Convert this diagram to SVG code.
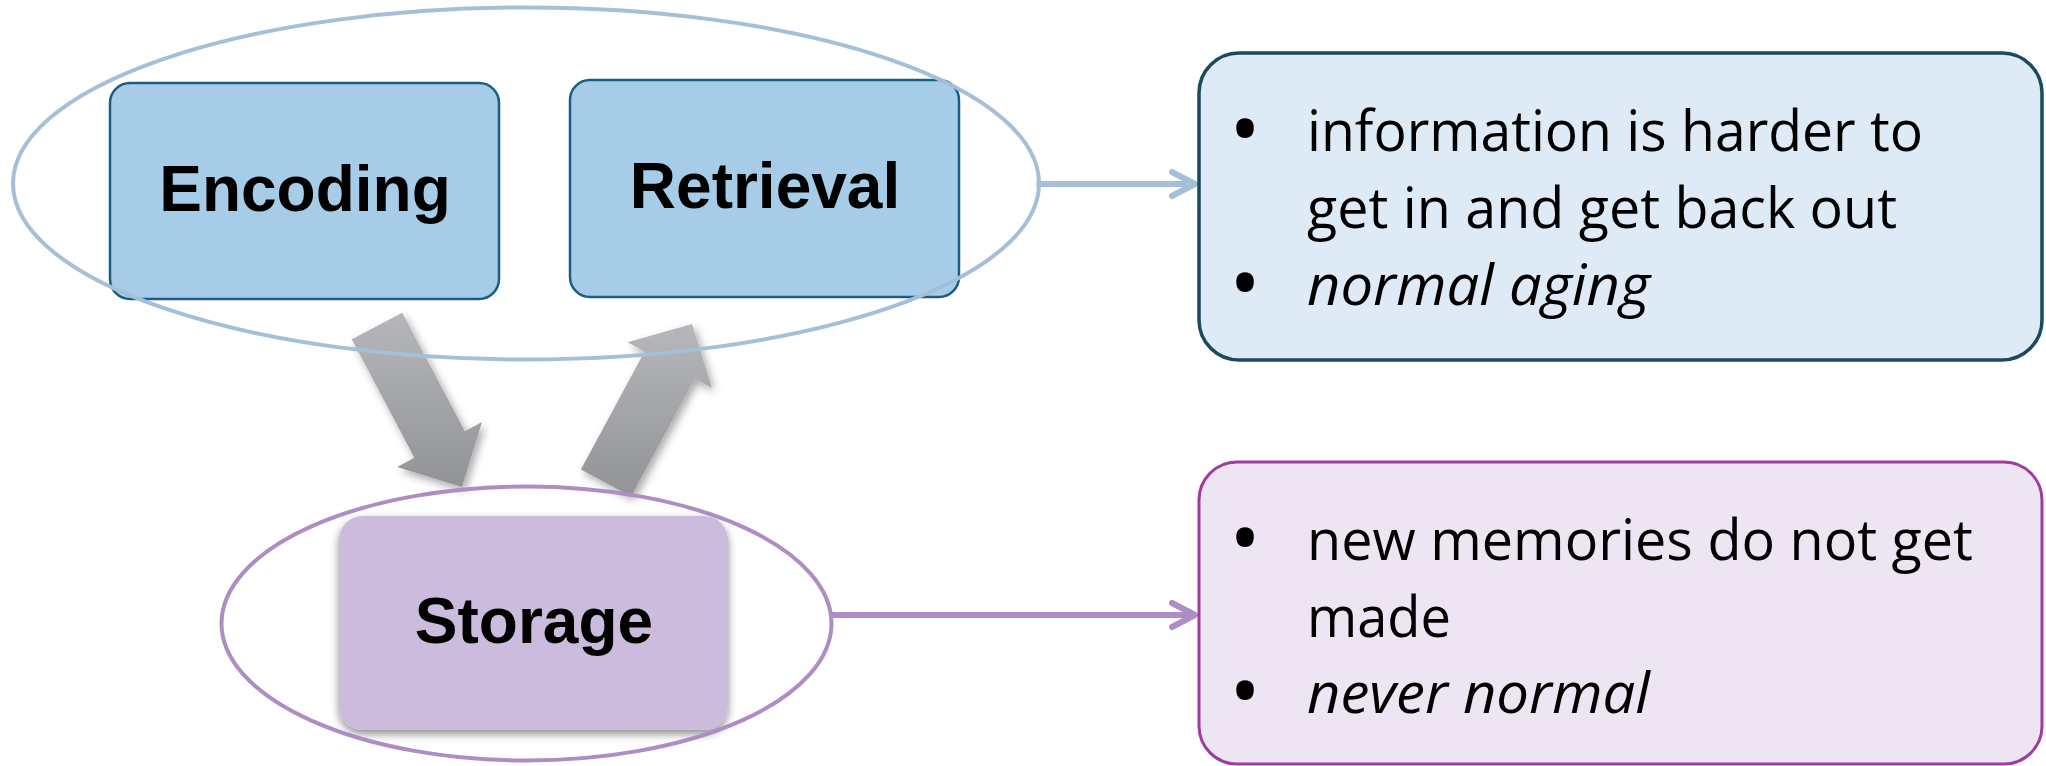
<svg xmlns="http://www.w3.org/2000/svg" width="2046" height="766" viewBox="0 0 2046 766">
  <defs>
    <style>
      .proc { stroke-width: 2.5; }
      .blue-box { fill: #A7CCE8; stroke: #1A5E84; }
      .label { font-family: "Liberation Sans", Arial, sans-serif; font-weight: bold; font-size: 64px; fill: #000; text-anchor: middle; }
      .note { font-family: "Open Sans", "Noto Sans", sans-serif; font-size: 56px; fill: #000; }
      .bullet { font-family: "Open Sans", "Noto Sans", sans-serif; font-size: 84px; fill: #000; text-anchor: middle; }
      .ring { fill: none; stroke-width: 4; }
      .link { fill: none; stroke-width: 6; stroke-linecap: round; stroke-linejoin: round; }
    </style>
    <linearGradient id="grayFlow" x1="0" y1="0" x2="0" y2="1">
      <stop offset="0" stop-color="#B6B7BB"/>
      <stop offset="1" stop-color="#929397"/>
    </linearGradient>
    <filter id="softShadow" x="-20%" y="-20%" width="140%" height="140%">
      <feDropShadow dx="3" dy="4" stdDeviation="4" flood-color="#000" flood-opacity="0.35"/>
    </filter>
    <filter id="boxShadow" x="-10%" y="-10%" width="120%" height="125%">
      <feDropShadow dx="0" dy="4" stdDeviation="4" flood-color="#000" flood-opacity="0.45"/>
    </filter>
  </defs>

  <!-- process boxes -->
  <g id="encoding">
    <rect class="proc blue-box" x="110" y="83" width="389" height="216" rx="20"/>
    <text class="label" x="305" y="211">Encoding</text>
  </g>
  <g id="retrieval">
    <rect class="proc blue-box" x="570" y="80" width="389" height="217" rx="20"/>
    <text class="label" x="765" y="208">Retrieval</text>
  </g>
  <g id="storage">
    <rect x="339" y="516" width="389" height="214" rx="24" fill="#CBBCDD" filter="url(#boxShadow)"/>
    <text class="label" x="534" y="643">Storage</text>
  </g>

  <!-- transfer arrows between the stages -->
  <g id="flow-arrows" fill="url(#grayFlow)" filter="url(#softShadow)">
    <polygon points="402.2,312.7 464.8,431.2 482,422.1 462,486.9 397.2,466.9 414.4,457.8 351.8,339.3"/>
    <polygon points="631.1,496.6 694.8,378.7 711.9,387.9 692,324 627.5,342.3 644.6,351.5 580.9,469.4"/>
  </g>

  <!-- grouping rings -->
  <g id="ring-encode-retrieve">
    <ellipse class="ring" cx="526" cy="183.5" rx="513" ry="176" stroke="#A4C0D8"/>
  </g>
  <g id="ring-storage">
    <ellipse class="ring" cx="526.5" cy="623.5" rx="305" ry="137" stroke="#AE8CC4"/>
  </g>

  <!-- connectors -->
  <g id="connectors">
    <path class="link" stroke="#A4C0D8" d="M1039,184 H1193 M1172,172 L1195,184 L1172,196"/>
    <path class="link" stroke="#AE8CC4" d="M832,615 H1193 M1172,603 L1195,615 L1172,627"/>
  </g>

  <!-- note boxes -->
  <g id="note-aging">
    <rect x="1199" y="53" width="843" height="307" rx="40" fill="#DEEAF6" stroke="#1B4A60" stroke-width="3.5"/>
    <text class="bullet" x="1245" y="159">•</text>
    <text class="bullet" x="1245" y="313">•</text>
    <text class="note" x="1307" y="151" textLength="616" lengthAdjust="spacingAndGlyphs">information is harder to</text>
    <text class="note" x="1307" y="228" textLength="590" lengthAdjust="spacingAndGlyphs">get in and get back out</text>
    <text class="note" x="1307" y="305" font-style="italic" textLength="343" lengthAdjust="spacingAndGlyphs">normal aging</text>
  </g>
  <g id="note-storage">
    <rect x="1199" y="462" width="843" height="302" rx="38" fill="#EDE5F1" stroke="#A03CA0" stroke-width="3"/>
    <text class="bullet" x="1245" y="568">•</text>
    <text class="bullet" x="1245" y="721">•</text>
    <text class="note" x="1307" y="560" textLength="666" lengthAdjust="spacingAndGlyphs">new memories do not get</text>
    <text class="note" x="1307" y="637" textLength="144" lengthAdjust="spacingAndGlyphs">made</text>
    <text class="note" x="1307" y="713" font-style="italic" textLength="343" lengthAdjust="spacingAndGlyphs">never normal</text>
  </g>
</svg>
